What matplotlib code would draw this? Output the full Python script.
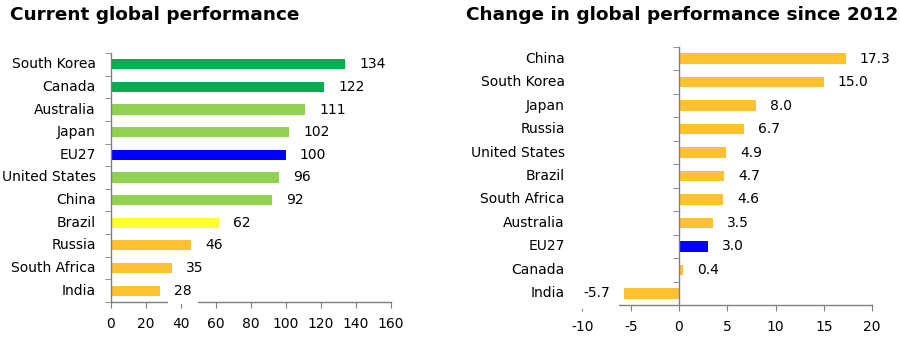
"""
EU27 global performance: current level and change since 2012
"""
import matplotlib
matplotlib.use('Agg')
import matplotlib.pyplot as plt
from matplotlib.ticker import MultipleLocator

plt.rcParams['axes.unicode_minus'] = False

# current global performance (EU27 = 100)
cur_countries = ['South Korea', 'Canada', 'Australia', 'Japan', 'EU27',
                 'United States', 'China', 'Brazil', 'Russia',
                 'South Africa', 'India']
cur_values = [134, 122, 111, 102, 100, 96, 92, 62, 46, 35, 28]
cur_labels = ['134', '122', '111', '102', '100', '96', '92', '62', '46',
              '35', '28']
cur_colors = ['#00B050', '#00B050', '#92D050', '#92D050', '#0000FF',
              '#92D050', '#92D050', '#FFFF33', '#FFC12F', '#FFC12F',
              '#FFC12F']

# change since 2012
chg_countries = ['China', 'South Korea', 'Japan', 'Russia', 'United States',
                 'Brazil', 'South Africa', 'Australia', 'EU27', 'Canada',
                 'India']
chg_values = [17.3, 15.0, 8.0, 6.7, 4.9, 4.7, 4.6, 3.5, 3.0, 0.4, -5.7]
chg_labels = ['17.3', '15.0', '8.0', '6.7', '4.9', '4.7', '4.6', '3.5',
              '3.0', '0.4', '-5.7']
chg_colors = ['#FFC12F'] * 8 + ['#0000FF', '#FFC12F', '#FFC12F']

axcol = '#7f7f7f'
fs = 10


def bar_panel(ax, names, vals, labels, colors, xlim, xstep, ypad):
    pos = list(range(len(names)))
    ax.barh(pos, vals, height=0.45, color=colors, zorder=2)
    ax.set_ylim(len(names) - 0.5, -0.5)
    ax.set_xlim(*xlim)
    ax.xaxis.set_major_locator(MultipleLocator(xstep))
    ax.set_yticks(pos)
    ax.set_yticklabels([])
    ax.set_yticks([p - 0.5 for p in pos] + [len(names) - 0.5], minor=True)
    ax.tick_params(axis='y', which='major', length=0)
    ax.tick_params(axis='y', which='minor', length=4, color=axcol,
                   direction='out')
    ax.tick_params(axis='x', length=4, color=axcol, labelsize=fs, pad=7)
    for s in ['top', 'right']:
        ax.spines[s].set_visible(False)
    for s in ['left', 'bottom']:
        ax.spines[s].set_color(axcol)
        ax.spines[s].set_linewidth(1.0)
    ax.spines['left'].set_position(('data', 0))
    # category names at the left edge of the plot area
    for p, n in zip(pos, names):
        ax.annotate(n, (0, p), xycoords=ax.get_yaxis_transform(),
                    xytext=(-ypad, 0), textcoords='offset points',
                    ha='right', va='center', fontsize=fs)
    for p, v, t in zip(pos, vals, labels):
        if v >= 0:
            ax.annotate(t, (v, p), xytext=(10, 0), textcoords='offset points',
                        ha='left', va='center', fontsize=fs, zorder=5,
                        bbox=dict(boxstyle='square,pad=0.45', fc='white',
                                  ec='none'))
        else:
            ax.annotate(t, (v, p), xytext=(-10, 0),
                        textcoords='offset points', ha='right', va='center',
                        fontsize=fs, zorder=5,
                        bbox=dict(boxstyle='square,pad=0.62', fc='white',
                                  ec='none'))


fig = plt.figure(figsize=(9, 3.47), dpi=100)
ax1 = fig.add_axes([0.1233, 0.1297, 0.3111, 0.7176])
ax2 = fig.add_axes([0.6472, 0.1210, 0.3217, 0.7436])

bar_panel(ax1, cur_countries, cur_values, cur_labels, cur_colors,
          (0, 160), 20, 11)
bar_panel(ax2, chg_countries, chg_values, chg_labels, chg_colors,
          (-10, 20), 5, 12.6)

fig.text(0.011, 0.958, 'Current global performance', fontsize=13.3,
         fontweight='bold', ha='left', va='center')
fig.text(0.518, 0.958, 'Change in global performance since 2012',
         fontsize=13.3, fontweight='bold', ha='left', va='center')

plt.savefig('out.png', dpi=100)
